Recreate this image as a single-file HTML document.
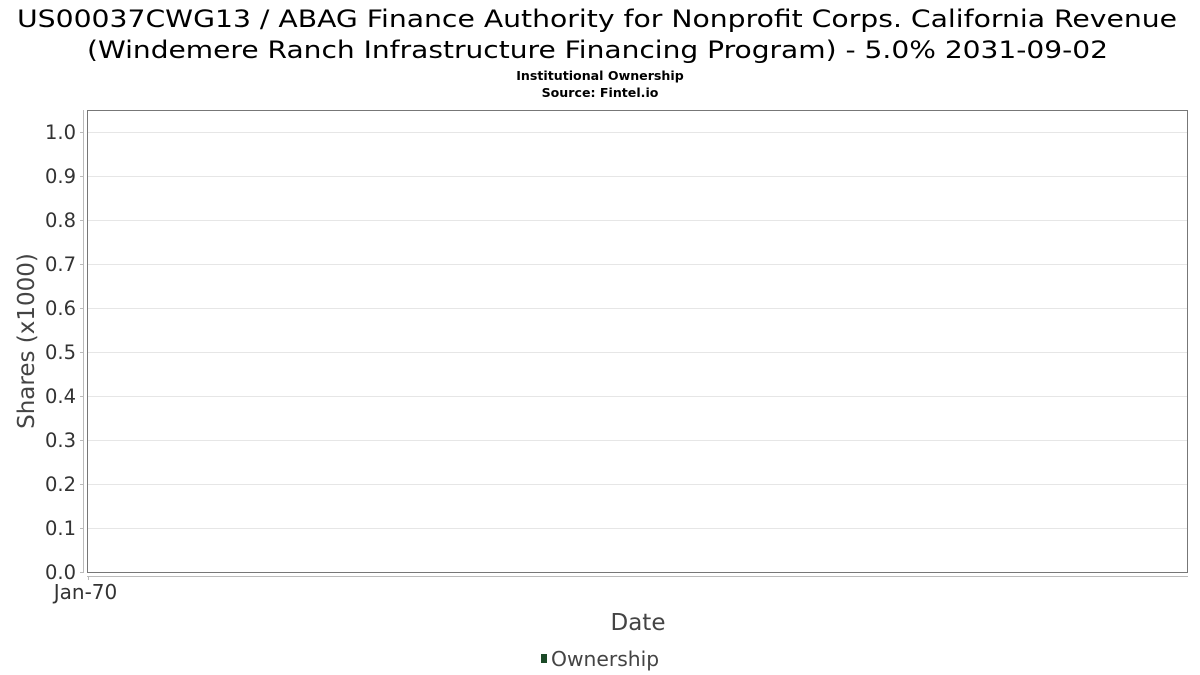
<!DOCTYPE html>
<html>
<head>
<meta charset="utf-8">
<style>
  html, body { margin: 0; padding: 0; background: #ffffff; }
  body { width: 1200px; height: 675px; overflow: hidden; }
  svg { display: block; font-family: "DejaVu Sans", "Liberation Sans", sans-serif; }
</style>
</head>
<body>
<svg width="1200" height="675" viewBox="0 0 1200 675" xmlns="http://www.w3.org/2000/svg">
  <rect x="0" y="0" width="1200" height="675" fill="#ffffff"/>

  <!-- Title -->
  <text x="597" y="27" text-anchor="middle" font-size="24" fill="#000" textLength="1160" lengthAdjust="spacingAndGlyphs">US00037CWG13 / ABAG Finance Authority for Nonprofit Corps. California Revenue</text>
  <text x="597.5" y="58" text-anchor="middle" font-size="24" fill="#000" textLength="1021" lengthAdjust="spacingAndGlyphs">(Windemere Ranch Infrastructure Financing Program) - 5.0% 2031-09-02</text>
  <text x="600" y="80" text-anchor="middle" font-size="12.6" font-weight="bold" fill="#000">Institutional Ownership</text>
  <text x="600" y="97" text-anchor="middle" font-size="12.6" font-weight="bold" fill="#000">Source: Fintel.io</text>

  <!-- Gridlines -->
  <g stroke="#e6e6e6" stroke-width="1">
    <line x1="88" y1="132.5" x2="1188" y2="132.5"/>
    <line x1="88" y1="176.5" x2="1188" y2="176.5"/>
    <line x1="88" y1="220.5" x2="1188" y2="220.5"/>
    <line x1="88" y1="264.5" x2="1188" y2="264.5"/>
    <line x1="88" y1="308.5" x2="1188" y2="308.5"/>
    <line x1="88" y1="352.5" x2="1188" y2="352.5"/>
    <line x1="88" y1="396.5" x2="1188" y2="396.5"/>
    <line x1="88" y1="440.5" x2="1188" y2="440.5"/>
    <line x1="88" y1="484.5" x2="1188" y2="484.5"/>
    <line x1="88" y1="528.5" x2="1188" y2="528.5"/>
  </g>

  <!-- Plot box -->
  <rect x="87.5" y="110.5" width="1100" height="462" fill="none" stroke="#777" stroke-width="1"/>

  <!-- Y axis line + ticks -->
  <g stroke="#bbb" stroke-width="1">
    <line x1="83.5" y1="110" x2="83.5" y2="573"/>
    <line x1="80" y1="132.5" x2="83.5" y2="132.5"/>
    <line x1="80" y1="176.5" x2="83.5" y2="176.5"/>
    <line x1="80" y1="220.5" x2="83.5" y2="220.5"/>
    <line x1="80" y1="264.5" x2="83.5" y2="264.5"/>
    <line x1="80" y1="308.5" x2="83.5" y2="308.5"/>
    <line x1="80" y1="352.5" x2="83.5" y2="352.5"/>
    <line x1="80" y1="396.5" x2="83.5" y2="396.5"/>
    <line x1="80" y1="440.5" x2="83.5" y2="440.5"/>
    <line x1="80" y1="484.5" x2="83.5" y2="484.5"/>
    <line x1="80" y1="528.5" x2="83.5" y2="528.5"/>
    <line x1="80" y1="572.5" x2="83.5" y2="572.5"/>
    <!-- X axis line + tick -->
    <line x1="87" y1="576.5" x2="1188" y2="576.5"/>
    <line x1="88.5" y1="576.5" x2="88.5" y2="580"/>
  </g>

  <!-- Y tick labels -->
  <g font-size="19.5" fill="#333" text-anchor="end">
    <text x="76" y="139">1.0</text>
    <text x="76" y="183">0.9</text>
    <text x="76" y="227">0.8</text>
    <text x="76" y="271">0.7</text>
    <text x="76" y="315">0.6</text>
    <text x="76" y="359">0.5</text>
    <text x="76" y="403">0.4</text>
    <text x="76" y="447">0.3</text>
    <text x="76" y="491">0.2</text>
    <text x="76" y="535">0.1</text>
    <text x="76" y="579">0.0</text>
  </g>

  <!-- X tick label -->
  <text x="85.5" y="599" font-size="20" fill="#333" text-anchor="middle">Jan-70</text>

  <!-- Axis titles -->
  <text x="638" y="630" font-size="23" fill="#444" text-anchor="middle">Date</text>
  <text transform="translate(34,341) rotate(-90)" font-size="23" fill="#444" text-anchor="middle">Shares (x1000)</text>

  <!-- Legend -->
  <rect x="541" y="654" width="6" height="9" fill="#1b4a27"/>
  <text x="551" y="666" font-size="20.3" fill="#444">Ownership</text>
</svg>
</body>
</html>
